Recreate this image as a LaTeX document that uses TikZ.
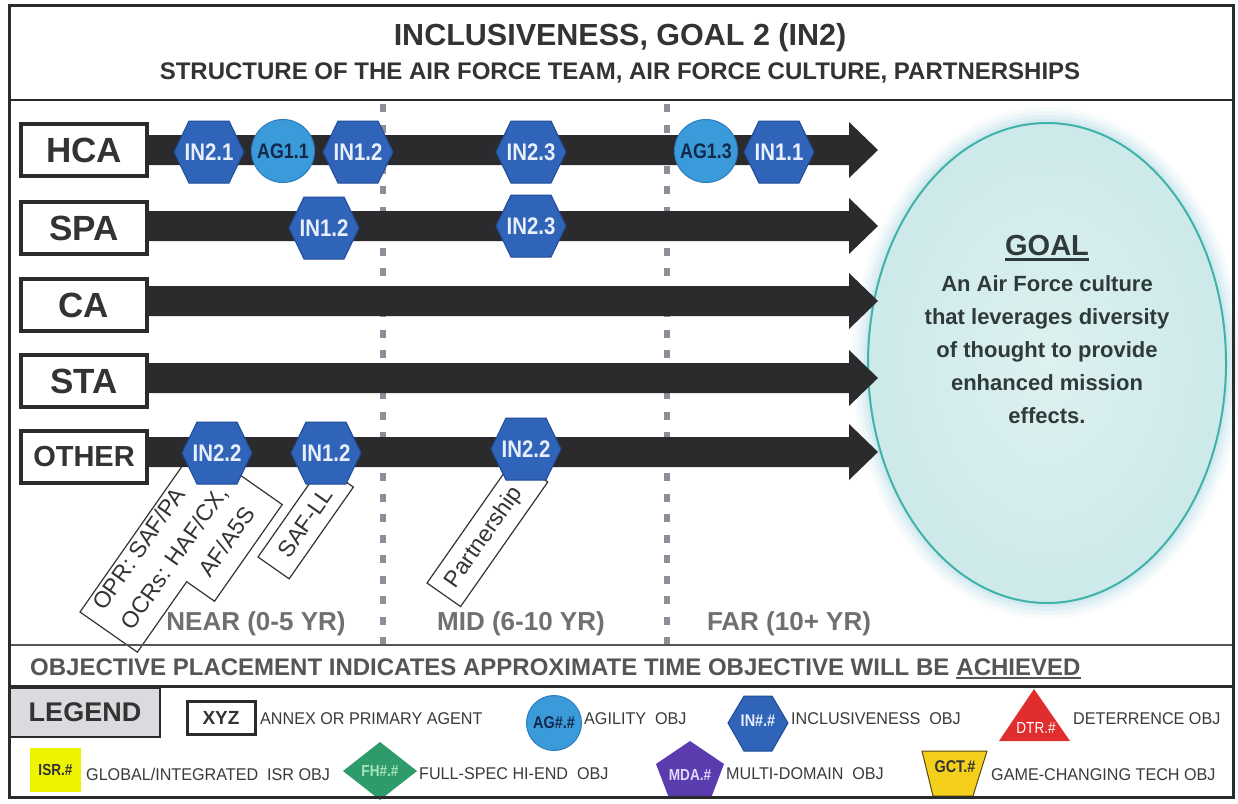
\documentclass[tikz,border=0pt]{standalone}
\usepackage{fontspec}
\setmainfont{Liberation Sans}
\newfontfamily\narrowfont{Liberation Sans}[FakeStretch=0.85]
\newfontfamily\legendfont{Liberation Sans}[FakeStretch=0.95]
\usetikzlibrary{shapes.geometric}
\definecolor{txt}{HTML}{333333}
\definecolor{frame}{HTML}{2B2B2B}
\definecolor{arrowc}{HTML}{2B2B2D}
\definecolor{hexblue}{HTML}{2F64B9}
\definecolor{hexedge}{HTML}{1F4C97}
\definecolor{hextxt}{HTML}{E8EEFC}
\definecolor{agblue}{HTML}{3B9AD9}
\definecolor{agedge}{HTML}{2C7DBF}
\definecolor{agtxt}{HTML}{13294B}
\definecolor{dotgray}{HTML}{8E8E98}
\definecolor{timegray}{HTML}{707070}
\definecolor{goalfill}{HTML}{CDE9EA}
\definecolor{goalin}{HTML}{DDF1F0}
\definecolor{goaledge}{HTML}{3FB2A9}
\definecolor{glow}{HTML}{B8DEEA}
\definecolor{goaltxt}{HTML}{2F3A3A}
\definecolor{legendgray}{HTML}{DADADF}
\definecolor{legtxt}{HTML}{3A3A3A}
\definecolor{isryellow}{HTML}{EEF300}
\definecolor{fhgreen}{HTML}{2E9B6B}
\definecolor{fhtxt}{HTML}{A9E3B9}
\definecolor{mdapurple}{HTML}{5B3CAE}
\definecolor{mdatxt}{HTML}{E0D6FF}
\definecolor{dtrred}{HTML}{E02D2D}
\definecolor{gctyellow}{HTML}{F4D01C}
\definecolor{gctedge}{HTML}{5A4A10}
\definecolor{striptxt}{HTML}{555555}
\newcommand\fsz[2]{\fontsize{#1}{#2}\selectfont}
\newcommand\hexobj[4]{%
  \fill[hexbody] (#2-35,#3) -- (#2-20,#3-31) -- (#2+20,#3-31) -- (#2+35,#3) -- (#2+20,#3+31) -- (#2-20,#3+31) -- cycle;
  \node[hextext] (#1) at (#2,#3) {#4};}
\newcommand\lanearrow[1]{%
  \fill[arrowc] (140,#1-15) -- (849,#1-15) -- (849,#1-28) -- (878,#1) -- (849,#1+28) -- (849,#1+15) -- (140,#1+15) -- cycle;}
\begin{document}
\begin{tikzpicture}[x=1pt,y=-1pt,
  lanebox/.style={draw=frame, line width=4.5pt, fill=white, minimum width=126pt, minimum height=52pt, inner sep=0pt, font=\bfseries\fsz{35}{40}, text=txt},
  hextext/.style={text=hextxt, font=\narrowfont\bfseries\fsz{24}{28}, inner sep=0pt},
  hexbody/.style={fill=hexblue, draw=hexedge, line width=1pt},
  agnode/.style={circle, fill=agblue, draw=agedge, line width=1pt, minimum size=63pt, inner sep=0pt, text=agtxt, font=\narrowfont\bfseries\fsz{21}{24}},
  lblbox/.style={draw=txt, line width=1.2pt},
  lbltext/.style={font=\fsz{23}{34}, text=txt, inner sep=0pt},
  timelbl/.style={font=\bfseries\fsz{26}{30}, text=timegray, inner sep=0pt},
  legtext/.style={font=\legendfont\fsz{17}{20}, text=legtxt, anchor=west, inner sep=0pt},
  dotline/.style={draw=dotgray, line width=6.5pt, dash pattern=on 8pt off 12.5pt},
  stripfont/.style={font=\bfseries\fsz{24}{28}, text=striptxt, inner sep=0pt, anchor=base west},
  box1/.style={shift={(80,612)}, rotate=55, transform shape},
  box2/.style={shift={(258,557)}, rotate=55, transform shape},
  box3/.style={shift={(427,583)}, rotate=55, transform shape},
]
\useasboundingbox (0,0) rectangle (1238,803);
\fill[white] (0,0) rectangle (1238,803);

% header
\node[font=\bfseries\fsz{30.5}{34}, text=txt] (title) at (620,38) {INCLUSIVENESS, GOAL 2 (IN2)};
\node[font=\bfseries\fsz{24}{28}, text=txt] (subtitle) at (620,73) {STRUCTURE OF THE AIR FORCE TEAM, AIR FORCE CULTURE, PARTNERSHIPS};

% time dividers
\draw[dotline] (383,104) -- (383,645);
\draw[dotline] (667,104) -- (667,645);

% goal ellipse with glow
\foreach \r/\o in {16/0.10, 12/0.15, 8/0.22, 4/0.32} {
  \fill[glow, opacity=\o] (1047,363) ellipse [x radius=179+\r, y radius=240+\r];
}
\node[ellipse, draw=goaledge, line width=2pt, inner color=goalin, outer color=goalfill, minimum width=358pt, minimum height=480pt, inner sep=0pt] (goal) at (1047,363) {};
\node[font=\bfseries\fsz{29}{32}, text=goaltxt, inner sep=0pt] (goalhead) at (1047,246) {GOAL};
\draw[goaltxt, line width=2.5pt] ([yshift=-3pt]goalhead.south west) -- ([yshift=-3pt]goalhead.south east);
\node[font=\bfseries\fsz{22}{33}, text=goaltxt, align=center, inner sep=0pt] (goaltext) at (1047,350) {An Air Force culture\\that leverages diversity\\of thought to provide\\enhanced mission\\effects.};

% rotated label boxes (outlines)
\begin{scope}[box1]
  \draw[lblbox] (0,0) -- (204,0) -- (204,104) -- (86,104) -- (86,70) -- (0,70) -- cycle;
\end{scope}
\begin{scope}[box2]
  \draw[lblbox] (0,0) rectangle (112,38);
\end{scope}
\begin{scope}[box3]
  \draw[lblbox] (0,0) rectangle (152,41);
\end{scope}

% lane arrows
\lanearrow{150}
\lanearrow{226}
\lanearrow{301}
\lanearrow{378}
\lanearrow{452}

% lane boxes
\node[lanebox] (hca) at (84,150) {HCA};
\node[lanebox] (spa) at (84,228) {SPA};
\node[lanebox] (ca) at (84,305) {CA};
\node[lanebox] (sta) at (84,381) {STA};
\node[lanebox, font=\bfseries\fsz{29}{33}] (other) at (84,457) {OTHER};

% objectives
\hexobj{hcaA}{209}{152}{IN2.1}
\node[agnode] (hcaB) at (283,151) {AG1.1};
\hexobj{hcaC}{358}{152}{IN1.2}
\hexobj{hcaD}{531}{152}{IN2.3}
\node[agnode] (hcaE) at (706,151) {AG1.3};
\hexobj{hcaF}{779}{152}{IN1.1}
\hexobj{spaA}{324}{228}{IN1.2}
\hexobj{spaB}{531}{226}{IN2.3}
\hexobj{othA}{217}{453}{IN2.2}
\hexobj{othB}{326}{453}{IN1.2}
\hexobj{othC}{526}{449}{IN2.2}

% rotated label texts
\begin{scope}[box1]
  \node[lbltext, align=left, anchor=north west] (opr) at (14,3) {OPR: SAF/PA\\OCRs: HAF/CX,\\\hspace*{88pt}AF/A5S};
\end{scope}
\begin{scope}[box2]
  \node[lbltext] (safll) at (55,19) {SAF-LL};
\end{scope}
\begin{scope}[box3]
  \node[lbltext] (partner) at (70,21) {Partnership};
\end{scope}

% time labels
\node[timelbl] (near) at (256,624) {NEAR (0-5 YR)};
\node[timelbl] (mid) at (521,624) {MID (6-10 YR)};
\node[timelbl] (far) at (789,624) {FAR (10+ YR)};

% objective strip
\node[stripfont] (strip1) at (30,675) {OBJECTIVE PLACEMENT INDICATES APPROXIMATE TIME OBJECTIVE WILL BE};
\node[stripfont] (strip2) at ([xshift=6.7pt]strip1.base east) {ACHIEVED};
\draw[striptxt, line width=2pt] ([yshift=-3pt]strip2.south west) -- ([yshift=-3pt]strip2.south east);

% legend row 1
\node[draw=frame, line width=2pt, fill=legendgray, minimum width=150pt, minimum height=49pt, inner sep=0pt, font=\bfseries\fsz{27}{30}, text=txt] (legend) at (85,712) {LEGEND};
\node[draw=frame, line width=3pt, minimum width=68pt, minimum height=33pt, inner sep=0pt, font=\bfseries\fsz{19}{22}, text=txt] (xyz) at (221,717.5) {XYZ};
\node[legtext] (annex) at (260,719) {ANNEX OR PRIMARY AGENT};
\node[agnode, minimum size=55pt, font=\narrowfont\bfseries\fsz{17}{20}] (agleg) at (554,723) {AG\#.\#};
\node[legtext] (agility) at (584,719) {AGILITY\ \ OBJ};
\fill[hexbody] (728,723) -- (744,696) -- (772,696) -- (788,723) -- (772,751) -- (744,751) -- cycle;
\node[hextext, font=\narrowfont\bfseries\fsz{17}{20}] (inleg) at (758,721) {IN\#.\#};
\node[legtext] (incl) at (791,719) {INCLUSIVENESS\ \ OBJ};
\fill[dtrred] (1034,689) -- (1070,741) -- (999,741) -- cycle;
\node[text=white, font=\narrowfont\fsz{16}{18}, inner sep=0pt] (dtr) at (1036,728) {DTR.\#};
\node[legtext] (deter) at (1073,719) {DETERRENCE OBJ};

% legend row 2
\node[fill=isryellow, minimum width=51pt, minimum height=44pt, inner sep=0pt, font=\narrowfont\bfseries\fsz{16}{18}, text=txt] (isr) at (55.5,770) {ISR.\#};
\node[legtext] (isrt) at (86,774) {GLOBAL/INTEGRATED\ \ ISR OBJ};
\fill[fhgreen] (380,742) -- (417,771) -- (380,800) -- (343,771) -- cycle;
\node[text=fhtxt, font=\narrowfont\bfseries\fsz{16}{18}, inner sep=0pt] (fh) at (380,771) {FH\#.\#};
\node[legtext] (fht) at (419,774) {FULL-SPEC HI-END\ \ OBJ};
\fill[mdapurple] (690,741) -- (724,764) -- (711,798) -- (669,798) -- (656,764) -- cycle;
\node[text=mdatxt, font=\narrowfont\bfseries\fsz{16}{18}, inner sep=0pt] (mda) at (690,775) {MDA.\#};
\node[legtext] (mdat) at (726,774) {MULTI-DOMAIN\ \ OBJ};
\filldraw[fill=gctyellow, draw=gctedge, line width=1pt] (922,751) -- (987,751) -- (973,796) -- (933,796) -- cycle;
\node[text=txt, font=\narrowfont\bfseries\fsz{17}{20}, inner sep=0pt] (gct) at (955,767) {GCT.\#};
\node[legtext] (gctt) at (991,775) {GAME-CHANGING TECH OBJ};

% frame lines
\draw[frame, line width=2.5pt] (9,100) -- (1233,100);
\draw[striptxt, line width=1.5pt] (9,645) -- (1233,645);
\draw[frame, line width=3pt] (9,686) -- (1233,686);
\draw[frame, line width=3pt] (9,5) rectangle (1233,797);
\end{tikzpicture}
\end{document}
